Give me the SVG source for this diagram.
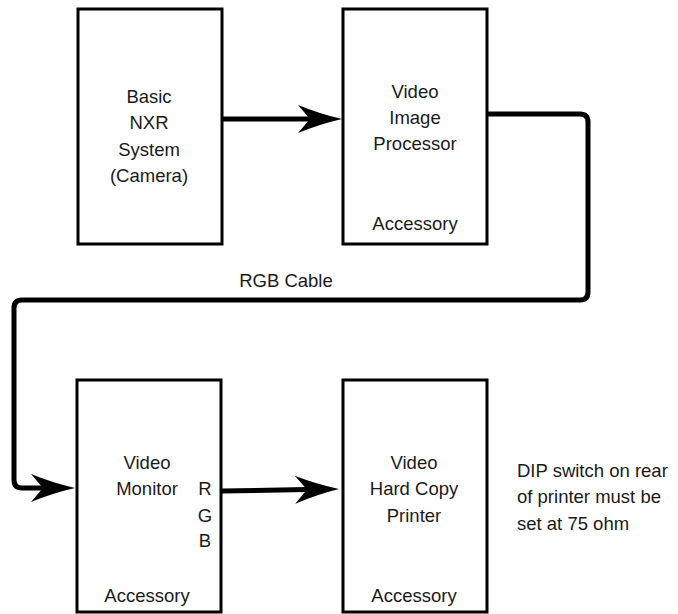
<svg xmlns="http://www.w3.org/2000/svg" width="678" height="614" viewBox="0 0 678 614">
<style>
.box{fill:#fff;stroke:#000;stroke-width:3}
.t{font-family:"Liberation Sans",Arial,sans-serif;font-size:18.5px;fill:#1a1a1a;text-anchor:middle}
.l{text-anchor:start}
.c{fill:none;stroke:#000;stroke-width:5;stroke-linejoin:round}
</style>
<defs>
<marker id="ah" markerUnits="userSpaceOnUse" markerWidth="44" markerHeight="30" viewBox="0 -15 44 30" refX="12" refY="0" orient="auto" overflow="visible">
<path d="M44,0 Q22,-5 0,-14 L12,0 L0,14 Q22,5 44,0 Z" fill="#000"/>
</marker>
</defs>
<rect width="678" height="614" fill="#fff"/>
<g id="connectors">
<path class="c" d="M222,119 H310" marker-end="url(#ah)"/>
<path class="c" d="M487,114 H580 Q588,114 588,122 V292 Q588,300 580,300 H22 Q14,300 14,308 V480 Q14,488 22,488 H43" marker-end="url(#ah)"/>
<path class="c" d="M222,491 L307,489.5" marker-end="url(#ah)"/>
<text class="t" x="286" y="287">RGB Cable</text>
</g>
<g id="camera">
<rect class="box" x="78" y="9" width="144" height="235"/>
<text class="t" x="149" y="102.5">Basic</text>
<text class="t" x="149" y="129">NXR</text>
<text class="t" x="149" y="155.5">System</text>
<text class="t" x="149" y="182">(Camera)</text>
</g>
<g id="processor">
<rect class="box" x="343" y="9" width="144" height="235"/>
<text class="t" x="415" y="97.5">Video</text>
<text class="t" x="415" y="123.5">Image</text>
<text class="t" x="415" y="150">Processor</text>
<text class="t" x="415" y="230">Accessory</text>
</g>
<g id="monitor">
<rect class="box" x="77" y="380" width="144" height="232"/>
<text class="t" x="147" y="469">Video</text>
<text class="t" x="147" y="495">Monitor</text>
<text class="t" x="205" y="495">R</text>
<text class="t" x="205" y="522">G</text>
<text class="t" x="205" y="547">B</text>
<text class="t" x="147" y="602">Accessory</text>
</g>
<g id="printer">
<rect class="box" x="343" y="380" width="144" height="232"/>
<text class="t" x="414" y="469">Video</text>
<text class="t" x="414" y="495">Hard Copy</text>
<text class="t" x="414" y="522">Printer</text>
<text class="t" x="414" y="602">Accessory</text>
</g>
<g id="note">
<text class="t l" x="517" y="477">DIP switch on rear</text>
<text class="t l" x="517" y="503">of printer must be</text>
<text class="t l" x="517" y="530">set at 75 ohm</text>
</g>
</svg>
